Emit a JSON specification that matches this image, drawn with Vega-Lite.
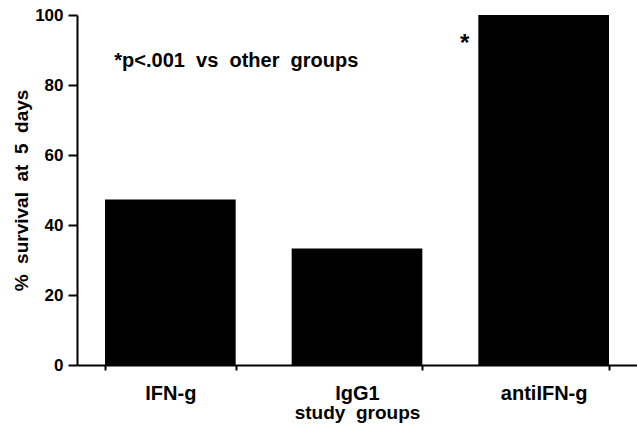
{
  "$schema": "https://vega.github.io/schema/vega-lite/v6.json",
  "width": 560,
  "height": 350,
  "autosize": {"type": "none"},
  "padding": {"left": 77, "top": 15, "right": 0, "bottom": 64},
  "background": "white",
  "config": {
    "view": {"stroke": null},
    "font": "Liberation Sans",
    "axis": {"grid": false, "domainColor": "black", "tickColor": "black", "labelColor": "black", "titleColor": "black"}
  },
  "datasets": {
    "bars": [
      {"group": "IFN-g", "survival": 47.3},
      {"group": "IgG1", "survival": 33.3},
      {"group": "antiIFN-g", "survival": 100}
    ],
    "notes": [
      {"group": "IFN-g", "survival": 87, "note": "*p<.001\u00a0 vs\u00a0 other\u00a0 groups"}
    ],
    "stars": [
      {"group": "antiIFN-g", "survival": 93, "note": "*"}
    ]
  },
  "layer": [
    {
      "data": {"name": "bars"},
      "mark": {"type": "bar", "color": "black"},
      "encoding": {
        "x": {
          "field": "group", "type": "nominal", "sort": null,
          "scale": {"paddingInner": 0.3, "paddingOuter": 0.15},
          "axis": {
            "title": "study\u00a0 groups", "labelAngle": 0, "tickBand": "extent",
            "tickSize": 5, "tickWidth": 2, "domainWidth": 2,
            "labelFontSize": 20, "labelFontWeight": "bold", "labelPadding": 13,
            "titleFontSize": 19, "titleFontWeight": "bold", "titlePadding": 0
          }
        },
        "y": {
          "field": "survival", "type": "quantitative",
          "scale": {"domain": [0, 100], "nice": false},
          "axis": {
            "title": "%\u00a0 survival\u00a0 at\u00a0 5\u00a0 days",
            "values": [0, 10, 20, 30, 40, 50, 60, 70, 80, 90, 100],
            "labelExpr": "datum.value % 20 === 0 ? datum.label : ''",
            "tickSize": {"condition": {"test": "datum.value % 20 === 0", "value": 9}, "value": 4},
            "tickWidth": 2, "domainWidth": 2,
            "labelFontSize": 17, "labelFontWeight": "bold", "labelPadding": 5,
            "titleFontSize": 19, "titleFontWeight": "bold", "titlePadding": 3
          }
        }
      }
    },
    {
      "data": {"name": "notes"},
      "mark": {"type": "text", "align": "left", "baseline": "middle", "dx": -56, "fontSize": 20, "fontWeight": "bold", "color": "black"},
      "encoding": {
        "x": {"field": "group", "type": "nominal", "sort": null},
        "y": {"field": "survival", "type": "quantitative"},
        "text": {"field": "note"}
      }
    },
    {
      "data": {"name": "stars"},
      "mark": {"type": "text", "align": "center", "baseline": "middle", "dx": -79, "dy": 4, "fontSize": 24, "fontWeight": "bold", "color": "black"},
      "encoding": {
        "x": {"field": "group", "type": "nominal", "sort": null},
        "y": {"field": "survival", "type": "quantitative"},
        "text": {"field": "note"}
      }
    }
  ]
}
